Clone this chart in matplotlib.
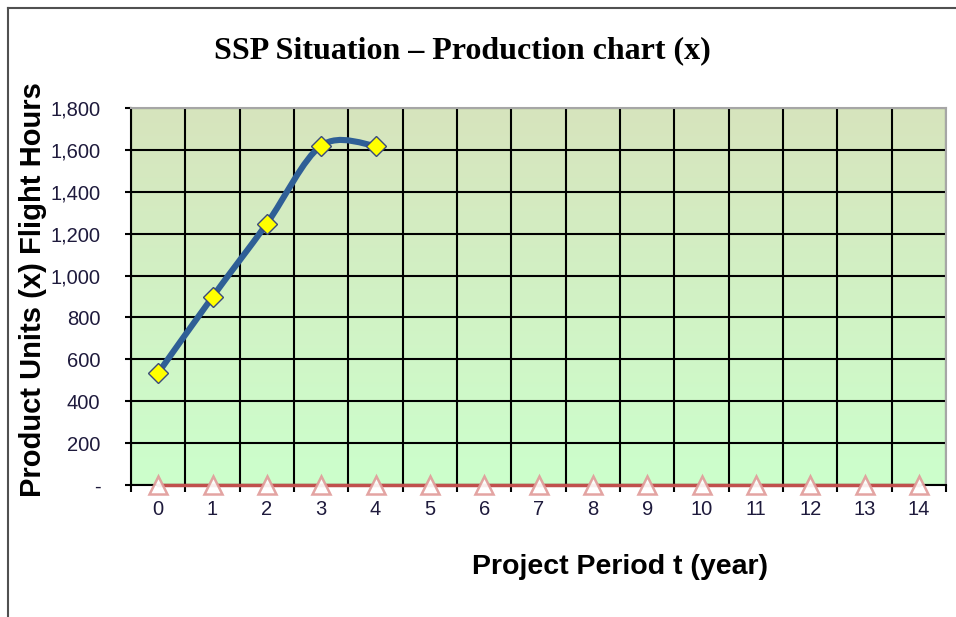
import numpy as np
import matplotlib.pyplot as plt
from matplotlib.path import Path
from matplotlib.patches import PathPatch
from matplotlib.lines import Line2D
from matplotlib.colors import LinearSegmentedColormap

# data
periods = list(range(15))
period_labels = [str(p) for p in periods]
flight_hours_t = [0, 1, 2, 3, 4]
flight_hours = [535, 898, 1248, 1620, 1620]
baseline = [0] * 15
y_ticks = [0, 200, 400, 600, 800, 1000, 1200, 1400, 1600, 1800]
y_tick_labels = ['-'] + ['{:,}'.format(v) for v in y_ticks[1:]]

fig = plt.figure(figsize=(9.56, 6.17), dpi=100)
ax = fig.add_axes([131 / 956, 1 - 485 / 617, 815 / 956, 377 / 617])

# gradient plot area background
cmap = LinearSegmentedColormap.from_list('bg', ['#CCFFCC', '#D7E4BD'])
grad = np.linspace(0, 1, 256).reshape(-1, 1)
ax.imshow(grad, cmap=cmap, aspect='auto', origin='lower',
          extent=[0, 1, 0, 1], transform=ax.transAxes, zorder=0)

ax.set_xlim(-0.5, 14.5)
ax.set_ylim(0, 1800)

# smoothed line (Excel-style bezier through the points)
xs = np.array(flight_hours_t, dtype=float)
ys = np.array(flight_hours, dtype=float)
pts = np.column_stack([xs, ys])
n = len(pts)
verts = [pts[0]]
codes = [Path.MOVETO]
for i in range(n - 1):
    p0 = pts[max(i - 1, 0)]
    p1 = pts[i]
    p2 = pts[i + 1]
    p3 = pts[min(i + 2, n - 1)]
    c1 = p1 + (p2 - p0) / 6
    c2 = p2 - (p3 - p1) / 6
    verts += [c1, c2, p2]
    codes += [Path.CURVE4] * 3
ax.add_patch(PathPatch(Path(verts, codes), facecolor='none', edgecolor='#2F5F96',
                       lw=4.4, capstyle='round', zorder=4))
ax.plot(flight_hours_t, flight_hours, linestyle='none', marker='D', markersize=10,
        markerfacecolor='#FFFF00', markeredgecolor='#3A4A7C', markeredgewidth=1.0,
        zorder=5, clip_on=False)

ax.plot(periods, baseline, color='#C0504D', lw=2.5, zorder=4, clip_on=False)
ax.plot(periods, baseline, linestyle='none', marker='^', markersize=12.5,
        markerfacecolor='#FFFFFF', markeredgecolor='#E09A98', markeredgewidth=1.8,
        alpha=0.9, zorder=5, clip_on=False)

# ticks and grid
ax.set_yticks(y_ticks)
ax.set_yticklabels(y_tick_labels)
ax.set_xticks(periods)
ax.set_xticklabels(period_labels)
ax.set_xticks(np.arange(-0.5, 15, 1), minor=True)
ax.tick_params(axis='x', which='major', length=0, pad=11, labelsize=14.5)
ax.tick_params(axis='x', which='minor', length=5, width=1.5, direction='out', color='black')
ax.tick_params(axis='y', which='major', length=4, width=1.5, pad=18, labelsize=14.5, color='black')
ax.grid(True, axis='y', which='major', color='black', lw=1.5, zorder=1)
ax.grid(True, axis='x', which='minor', color='black', lw=1.5, zorder=1)
ax.set_axisbelow(True)
for t in ax.get_xticklabels() + ax.get_yticklabels():
    t.set_fontfamily('Liberation Sans')
    t.set_color('#1E1A3C')

for side in ['left', 'bottom']:
    ax.spines[side].set_color('black')
    ax.spines[side].set_linewidth(1.5)
for side in ['top', 'right']:
    ax.spines[side].set_color('#A6A6A6')
    ax.spines[side].set_linewidth(1.5)

fig.text(462 / 956, 1 - 51 / 617, 'SSP Situation \u2013 Production chart (x)',
         fontfamily='Liberation Serif', fontweight='bold', fontsize=23,
         ha='center', va='center')
ax.set_ylabel('Product Units (x) Flight Hours', fontfamily='Liberation Sans',
              fontweight='bold', fontsize=21, va='center')
ax.yaxis.set_label_coords((33 - 131) / 815, (485 - 290) / 377)
ax.set_xlabel('Project Period t (year)', fontfamily='Liberation Sans',
              fontweight='bold', fontsize=20.5, va='center')
ax.xaxis.set_label_coords((620 - 131) / 815, (485 - 567) / 377)

# outer chart frame
fig.add_artist(Line2D([8 / 956, 8 / 956], [0, 1 - 8 / 617], color='#505050', lw=1.5))
fig.add_artist(Line2D([8 / 956, 1], [1 - 8 / 617, 1 - 8 / 617], color='#505050', lw=1.5))

fig.savefig('out.png', dpi=100)
